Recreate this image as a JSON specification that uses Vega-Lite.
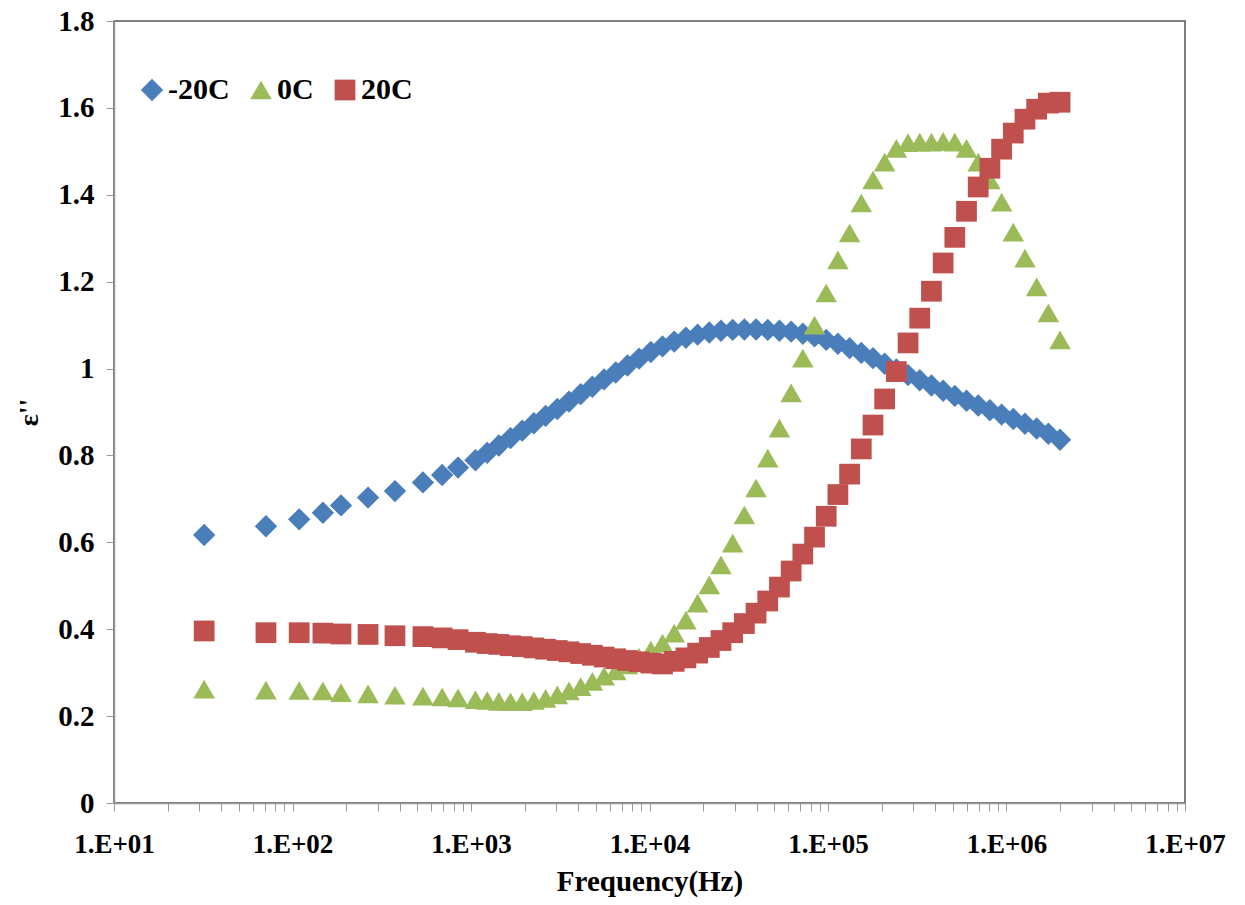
{
  "$schema": "https://vega.github.io/schema/vega-lite/v6.json",
  "width": 1071,
  "height": 782,
  "autosize": "none",
  "padding": {"left": 114, "top": 21, "right": 60, "bottom": 102},
  "background": "white",
  "config": {
    "view": {"stroke": "#555", "strokeWidth": 1.5},
    "font": "'Times New Roman', 'Liberation Serif', serif"
  },
  "data": {"values": [
    {"s":"-20C","f":32,"v":0.617},{"s":"-20C","f":71,"v":0.637},{"s":"-20C","f":109,"v":0.653},{"s":"-20C","f":148,"v":0.668},{"s":"-20C","f":187,"v":0.685},{"s":"-20C","f":265,"v":0.703},{"s":"-20C","f":375,"v":0.718},{"s":"-20C","f":538,"v":0.738},{"s":"-20C","f":689,"v":0.755},{"s":"-20C","f":846,"v":0.772},
    {"s":"-20C","f":1059,"v":0.789},{"s":"-20C","f":1232,"v":0.806},{"s":"-20C","f":1432,"v":0.823},{"s":"-20C","f":1665,"v":0.840},{"s":"-20C","f":1936,"v":0.857},{"s":"-20C","f":2251,"v":0.874},{"s":"-20C","f":2618,"v":0.891},{"s":"-20C","f":3044,"v":0.907},{"s":"-20C","f":3540,"v":0.924},{"s":"-20C","f":4116,"v":0.941},
    {"s":"-20C","f":4786,"v":0.958},{"s":"-20C","f":5566,"v":0.975},{"s":"-20C","f":6471,"v":0.991},{"s":"-20C","f":7524,"v":1.007},{"s":"-20C","f":8750,"v":1.023},{"s":"-20C","f":10174,"v":1.038},{"s":"-20C","f":11830,"v":1.051},{"s":"-20C","f":13757,"v":1.062},{"s":"-20C","f":15996,"v":1.071},{"s":"-20C","f":18601,"v":1.078},
    {"s":"-20C","f":21627,"v":1.083},{"s":"-20C","f":25147,"v":1.087},{"s":"-20C","f":29242,"v":1.089},{"s":"-20C","f":34003,"v":1.090},{"s":"-20C","f":39537,"v":1.090},{"s":"-20C","f":45973,"v":1.089},{"s":"-20C","f":53456,"v":1.087},{"s":"-20C","f":62158,"v":1.085},{"s":"-20C","f":72277,"v":1.080},{"s":"-20C","f":84045,"v":1.074},
    {"s":"-20C","f":97724,"v":1.066},{"s":"-20C","f":113633,"v":1.057},{"s":"-20C","f":132130,"v":1.047},{"s":"-20C","f":153637,"v":1.036},{"s":"-20C","f":178649,"v":1.024},{"s":"-20C","f":207730,"v":1.011},{"s":"-20C","f":241546,"v":0.998},{"s":"-20C","f":280867,"v":0.985},{"s":"-20C","f":326588,"v":0.973},{"s":"-20C","f":379749,"v":0.961},
    {"s":"-20C","f":441570,"v":0.949},{"s":"-20C","f":513450,"v":0.937},{"s":"-20C","f":597035,"v":0.926},{"s":"-20C","f":694222,"v":0.915},{"s":"-20C","f":807235,"v":0.904},{"s":"-20C","f":938642,"v":0.894},{"s":"-20C","f":1091440,"v":0.884},{"s":"-20C","f":1269130,"v":0.873},{"s":"-20C","f":1475707,"v":0.862},{"s":"-20C","f":1715910,"v":0.850},{"s":"-20C","f":1995262,"v":0.836},

    {"s":"0C","f":32,"v":0.262},{"s":"0C","f":71,"v":0.260},{"s":"0C","f":109,"v":0.259},{"s":"0C","f":148,"v":0.258},{"s":"0C","f":187,"v":0.254},{"s":"0C","f":265,"v":0.251},{"s":"0C","f":375,"v":0.248},{"s":"0C","f":538,"v":0.246},{"s":"0C","f":689,"v":0.244},{"s":"0C","f":846,"v":0.242},
    {"s":"0C","f":1059,"v":0.238},{"s":"0C","f":1232,"v":0.236},{"s":"0C","f":1432,"v":0.234},{"s":"0C","f":1665,"v":0.233},{"s":"0C","f":1936,"v":0.233},{"s":"0C","f":2251,"v":0.236},{"s":"0C","f":2618,"v":0.241},{"s":"0C","f":3044,"v":0.249},{"s":"0C","f":3540,"v":0.258},{"s":"0C","f":4116,"v":0.268},
    {"s":"0C","f":4786,"v":0.280},{"s":"0C","f":5566,"v":0.292},{"s":"0C","f":6471,"v":0.304},{"s":"0C","f":7524,"v":0.318},{"s":"0C","f":8750,"v":0.335},{"s":"0C","f":10174,"v":0.352},{"s":"0C","f":11830,"v":0.368},{"s":"0C","f":13757,"v":0.391},{"s":"0C","f":15996,"v":0.421},{"s":"0C","f":18601,"v":0.460},
    {"s":"0C","f":21627,"v":0.502},{"s":"0C","f":25147,"v":0.548},{"s":"0C","f":29242,"v":0.598},{"s":"0C","f":34003,"v":0.663},{"s":"0C","f":39537,"v":0.725},{"s":"0C","f":45973,"v":0.794},{"s":"0C","f":53456,"v":0.863},{"s":"0C","f":62158,"v":0.944},{"s":"0C","f":72277,"v":1.024},{"s":"0C","f":84045,"v":1.100},
    {"s":"0C","f":97724,"v":1.174},{"s":"0C","f":113633,"v":1.250},{"s":"0C","f":132130,"v":1.312},{"s":"0C","f":153637,"v":1.381},{"s":"0C","f":178649,"v":1.434},{"s":"0C","f":207730,"v":1.475},{"s":"0C","f":241546,"v":1.507},{"s":"0C","f":280867,"v":1.520},{"s":"0C","f":326588,"v":1.521},{"s":"0C","f":379749,"v":1.521},
    {"s":"0C","f":441570,"v":1.523},{"s":"0C","f":513450,"v":1.521},{"s":"0C","f":597035,"v":1.507},{"s":"0C","f":694222,"v":1.475},{"s":"0C","f":807235,"v":1.434},{"s":"0C","f":938642,"v":1.383},{"s":"0C","f":1091440,"v":1.314},{"s":"0C","f":1269130,"v":1.254},{"s":"0C","f":1475707,"v":1.188},{"s":"0C","f":1715910,"v":1.128},{"s":"0C","f":1995262,"v":1.066},

    {"s":"20C","f":32,"v":0.396},{"s":"20C","f":71,"v":0.392},{"s":"20C","f":109,"v":0.392},{"s":"20C","f":148,"v":0.391},{"s":"20C","f":187,"v":0.389},{"s":"20C","f":265,"v":0.388},{"s":"20C","f":375,"v":0.385},{"s":"20C","f":538,"v":0.383},{"s":"20C","f":689,"v":0.380},{"s":"20C","f":846,"v":0.376},
    {"s":"20C","f":1059,"v":0.370},{"s":"20C","f":1232,"v":0.367},{"s":"20C","f":1432,"v":0.365},{"s":"20C","f":1665,"v":0.362},{"s":"20C","f":1936,"v":0.360},{"s":"20C","f":2251,"v":0.357},{"s":"20C","f":2618,"v":0.354},{"s":"20C","f":3044,"v":0.351},{"s":"20C","f":3540,"v":0.348},{"s":"20C","f":4116,"v":0.344},
    {"s":"20C","f":4786,"v":0.340},{"s":"20C","f":5566,"v":0.336},{"s":"20C","f":6471,"v":0.332},{"s":"20C","f":7524,"v":0.328},{"s":"20C","f":8750,"v":0.325},{"s":"20C","f":10174,"v":0.322},{"s":"20C","f":11830,"v":0.320},{"s":"20C","f":13757,"v":0.326},{"s":"20C","f":15996,"v":0.334},{"s":"20C","f":18601,"v":0.345},
    {"s":"20C","f":21627,"v":0.358},{"s":"20C","f":25147,"v":0.374},{"s":"20C","f":29242,"v":0.392},{"s":"20C","f":34003,"v":0.413},{"s":"20C","f":39537,"v":0.437},{"s":"20C","f":45973,"v":0.465},{"s":"20C","f":53456,"v":0.497},{"s":"20C","f":62158,"v":0.534},{"s":"20C","f":72277,"v":0.573},{"s":"20C","f":84045,"v":0.612},
    {"s":"20C","f":97724,"v":0.660},{"s":"20C","f":113633,"v":0.710},{"s":"20C","f":132130,"v":0.757},{"s":"20C","f":153637,"v":0.815},{"s":"20C","f":178649,"v":0.870},{"s":"20C","f":207730,"v":0.930},{"s":"20C","f":241546,"v":0.993},{"s":"20C","f":280867,"v":1.059},{"s":"20C","f":326588,"v":1.116},{"s":"20C","f":379749,"v":1.178},
    {"s":"20C","f":441570,"v":1.243},{"s":"20C","f":513450,"v":1.302},{"s":"20C","f":597035,"v":1.362},{"s":"20C","f":694222,"v":1.418},{"s":"20C","f":807235,"v":1.461},{"s":"20C","f":938642,"v":1.505},{"s":"20C","f":1091440,"v":1.542},{"s":"20C","f":1269130,"v":1.574},{"s":"20C","f":1475707,"v":1.597},{"s":"20C","f":1715910,"v":1.611},{"s":"20C","f":1995262,"v":1.613}
  ]},
  "mark": {"type": "point", "filled": true, "opacity": 1},
  "encoding": {
    "x": {
      "field": "f", "type": "quantitative",
      "scale": {"type": "log", "domain": [10, 10000000], "nice": false},
      "axis": {
        "title": "Frequency(Hz)",
        "values": [10,20,30,40,50,60,70,80,90,100,200,300,400,500,600,700,800,900,1000,2000,3000,4000,5000,6000,7000,8000,9000,10000,20000,30000,40000,50000,60000,70000,80000,90000,100000,200000,300000,400000,500000,600000,700000,800000,900000,1000000,2000000,3000000,4000000,5000000,6000000,7000000,8000000,9000000,10000000],
        "labelExpr": "abs(log(datum.value)/LN10 - round(log(datum.value)/LN10)) < 0.001 ? '1.E+' + (round(log(datum.value)/LN10) < 10 ? '0' : '') + round(log(datum.value)/LN10) : ''",
        "labelOverlap": false,
        "labelFlush": false,
        "grid": false,
        "tickSize": 8,
        "tickColor": "#999",
        "domainColor": "#999",
        "domainWidth": 1.5,
        "labelFont": "'Times New Roman', 'Liberation Serif', serif",
        "labelFontWeight": "bold",
        "labelFontSize": 27,
        "labelColor": "#000",
        "labelPadding": 20,
        "titleFont": "'Times New Roman', 'Liberation Serif', serif",
        "titleFontWeight": "bold",
        "titleFontSize": 29,
        "titleColor": "#000",
        "titlePadding": 10
      }
    },
    "y": {
      "field": "v", "type": "quantitative",
      "scale": {"domain": [0, 1.8], "nice": false, "zero": false},
      "axis": {
        "title": "ε''",
        "values": [0,0.2,0.4,0.6,0.8,1,1.2,1.4,1.6,1.8],
        "format": "~g",
        "labelFlush": false,
        "grid": false,
        "tickSize": 8,
        "tickColor": "#999",
        "domainColor": "#999",
        "domainWidth": 1.5,
        "labelFont": "'Times New Roman', 'Liberation Serif', serif",
        "labelFontWeight": "bold",
        "labelFontSize": 29,
        "labelColor": "#000",
        "labelPadding": 12,
        "titleFont": "'Times New Roman', 'Liberation Serif', serif",
        "titleFontWeight": "bold",
        "titleFontSize": 28,
        "titleColor": "#000",
        "titlePadding": 14
      }
    },
    "color": {
      "field": "s", "type": "nominal",
      "scale": {"domain": ["-20C","0C","20C"], "range": ["#4A7EBB","#9BBB59","#C0504D"]},
      "legend": {
        "title": null,
        "orient": "none",
        "direction": "horizontal",
        "legendX": 23,
        "legendY": 54,
        "symbolSize": 200,
        "symbolStrokeWidth": 0,
        "labelFont": "'Times New Roman', 'Liberation Serif', serif",
        "labelFontWeight": "bold",
        "labelFontSize": 30,
        "labelColor": "#000",
        "labelOffset": 1,
        "columnPadding": 16,
        "symbolOpacity": 1
      }
    },
    "shape": {
      "field": "s", "type": "nominal",
      "scale": {"domain": ["-20C","0C","20C"], "range": ["diamond","triangle-up","square"]}
    },
    "size": {
      "field": "s", "type": "nominal",
      "scale": {"domain": ["-20C","0C","20C"], "range": [500, 430, 361]},
      "legend": null
    }
  }
}
